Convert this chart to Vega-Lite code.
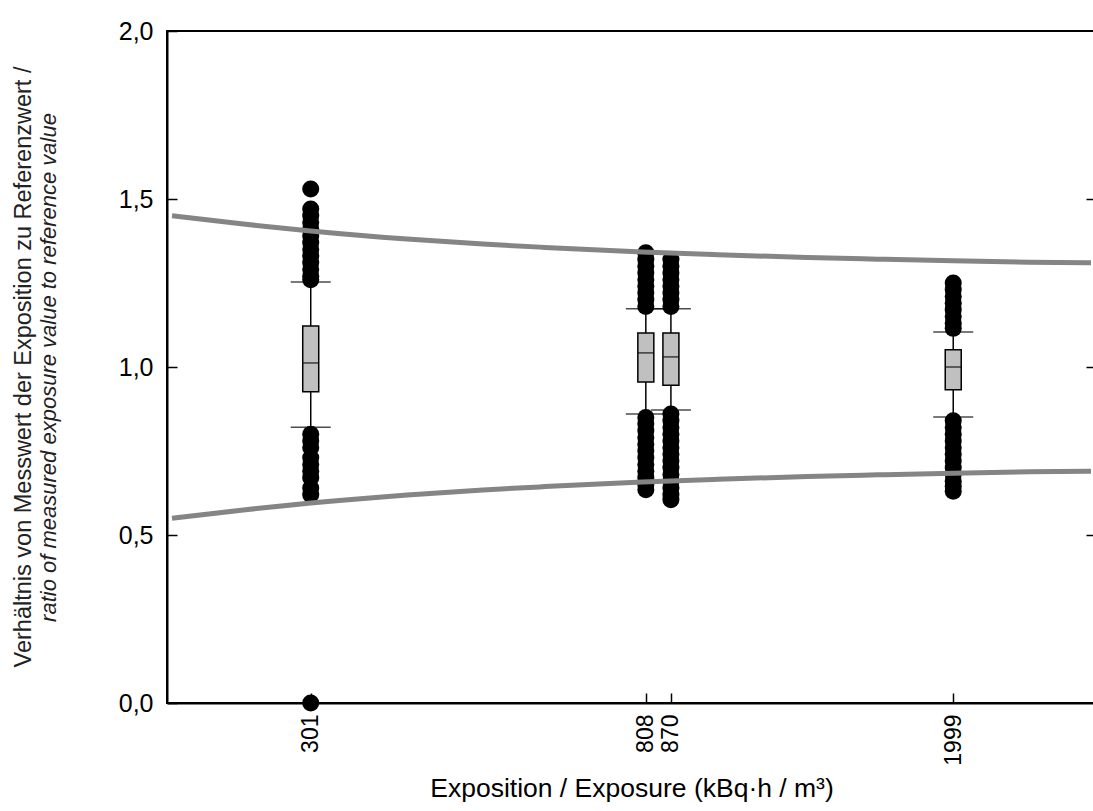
{
  "$schema": "https://vega.github.io/schema/vega-lite/v6.json",
  "autosize": {"type": "none"},
  "padding": {"left": 167, "top": 31, "right": 0, "bottom": 108},
  "width": 929,
  "height": 672,
  "background": "white",
  "config": {
    "view": {"stroke": "black", "strokeWidth": 2},
    "font": "Liberation Sans",
    "axis": {"labelFont": "Liberation Sans", "titleFont": "Liberation Sans", "labelColor": "black", "titleColor": "black", "domainColor": "black", "tickColor": "black", "grid": false}
  },
  "title": {
    "text": "Verhältnis von Messwert der Exposition zu Referenzwert /",
    "orient": "left",
    "anchor": "middle",
    "font": "Liberation Sans",
    "fontSize": 23.5,
    "fontWeight": "normal",
    "color": "#222222",
    "offset": 2
  },
  "datasets": {
    "pts": [
      {"x": 301, "v": 1.53}, {"x": 301, "v": 1.47}, {"x": 301, "v": 1.45}, {"x": 301, "v": 1.43}, {"x": 301, "v": 1.41}, {"x": 301, "v": 1.39}, {"x": 301, "v": 1.37}, {"x": 301, "v": 1.35}, {"x": 301, "v": 1.33}, {"x": 301, "v": 1.31}, {"x": 301, "v": 1.29}, {"x": 301, "v": 1.27}, {"x": 301, "v": 1.26},
      {"x": 301, "v": 0.80}, {"x": 301, "v": 0.78}, {"x": 301, "v": 0.76}, {"x": 301, "v": 0.73}, {"x": 301, "v": 0.71}, {"x": 301, "v": 0.69}, {"x": 301, "v": 0.67}, {"x": 301, "v": 0.64}, {"x": 301, "v": 0.62}, {"x": 301, "v": 0.0},
      {"x": 808, "v": 1.34}, {"x": 808, "v": 1.32}, {"x": 808, "v": 1.30}, {"x": 808, "v": 1.28}, {"x": 808, "v": 1.26}, {"x": 808, "v": 1.24}, {"x": 808, "v": 1.22}, {"x": 808, "v": 1.20}, {"x": 808, "v": 1.18},
      {"x": 808, "v": 0.85}, {"x": 808, "v": 0.83}, {"x": 808, "v": 0.81}, {"x": 808, "v": 0.79}, {"x": 808, "v": 0.77}, {"x": 808, "v": 0.75}, {"x": 808, "v": 0.73}, {"x": 808, "v": 0.71}, {"x": 808, "v": 0.69}, {"x": 808, "v": 0.67}, {"x": 808, "v": 0.65}, {"x": 808, "v": 0.635},
      {"x": 870, "v": 1.32}, {"x": 870, "v": 1.30}, {"x": 870, "v": 1.28}, {"x": 870, "v": 1.26}, {"x": 870, "v": 1.24}, {"x": 870, "v": 1.22}, {"x": 870, "v": 1.20}, {"x": 870, "v": 1.18},
      {"x": 870, "v": 0.86}, {"x": 870, "v": 0.84}, {"x": 870, "v": 0.82}, {"x": 870, "v": 0.80}, {"x": 870, "v": 0.78}, {"x": 870, "v": 0.76}, {"x": 870, "v": 0.74}, {"x": 870, "v": 0.72}, {"x": 870, "v": 0.70}, {"x": 870, "v": 0.68}, {"x": 870, "v": 0.66}, {"x": 870, "v": 0.64}, {"x": 870, "v": 0.62}, {"x": 870, "v": 0.605},
      {"x": 1999, "v": 1.25}, {"x": 1999, "v": 1.23}, {"x": 1999, "v": 1.21}, {"x": 1999, "v": 1.19}, {"x": 1999, "v": 1.17}, {"x": 1999, "v": 1.15}, {"x": 1999, "v": 1.13}, {"x": 1999, "v": 1.115},
      {"x": 1999, "v": 0.84}, {"x": 1999, "v": 0.82}, {"x": 1999, "v": 0.80}, {"x": 1999, "v": 0.78}, {"x": 1999, "v": 0.76}, {"x": 1999, "v": 0.74}, {"x": 1999, "v": 0.72}, {"x": 1999, "v": 0.70}, {"x": 1999, "v": 0.68}, {"x": 1999, "v": 0.66}, {"x": 1999, "v": 0.645}, {"x": 1999, "v": 0.63}
    ],
    "box": [
      {"x": 301, "lo": 0.821, "q1": 0.926, "med": 1.012, "q3": 1.122, "hi": 1.253},
      {"x": 808, "lo": 0.860, "q1": 0.955, "med": 1.042, "q3": 1.101, "hi": 1.173},
      {"x": 870, "lo": 0.872, "q1": 0.946, "med": 1.030, "q3": 1.101, "hi": 1.173},
      {"x": 1999, "lo": 0.851, "q1": 0.932, "med": 1.000, "q3": 1.051, "hi": 1.104}
    ],
    "curve": [
      {"x": 200, "up": 1.450, "lo": 0.550},
      {"x": 250, "up": 1.424, "lo": 0.576},
      {"x": 301, "up": 1.405, "lo": 0.595},
      {"x": 400, "up": 1.381, "lo": 0.619},
      {"x": 500, "up": 1.366, "lo": 0.634},
      {"x": 600, "up": 1.356, "lo": 0.644},
      {"x": 800, "up": 1.342, "lo": 0.658},
      {"x": 1000, "up": 1.334, "lo": 0.666},
      {"x": 1300, "up": 1.326, "lo": 0.674},
      {"x": 1600, "up": 1.321, "lo": 0.679},
      {"x": 2000, "up": 1.316, "lo": 0.684},
      {"x": 2500, "up": 1.312, "lo": 0.688},
      {"x": 3000, "up": 1.310, "lo": 0.690}
    ]
  },
  "resolve": {"axis": {"y": "independent"}},
  "layer": [
    {
      "data": {"name": "pts"},
      "mark": {"type": "circle", "size": 290, "color": "black", "opacity": 1},
      "encoding": {
        "x": {
          "field": "x", "type": "quantitative",
          "scale": {"type": "log", "domain": [200, 3000], "nice": false},
          "axis": {
            "values": [301, 808, 870, 1999],
            "labelExpr": "format(datum.value, 'd')",
            "labelAngle": 270,
            "labelFontSize": 23,
            "labelPadding": 21,
            "tickSize": -10,
            "tickWidth": 1.5,
            "domainWidth": 2,
            "title": "Exposition / Exposure (kBq·h / m³)",
            "titleFontSize": 26.5,
            "titleFontWeight": "normal",
            "titlePadding": 10
          }
        },
        "y": {
          "field": "v", "type": "quantitative",
          "scale": {"domain": [0, 2], "nice": false},
          "axis": {
            "values": [0, 0.5, 1, 1.5, 2],
            "labelExpr": "replace(format(datum.value, '.1f'), '.', ',')",
            "labelFontSize": 25,
            "labelPadding": 24,
            "tickSize": -10,
            "tickWidth": 1.5,
            "domainWidth": 2,
            "title": "ratio of measured exposure value to reference value",
            "titleFontSize": 22,
            "titleFontStyle": "italic",
            "titleFontWeight": "normal",
            "titleColor": "#222222",
            "titlePadding": 58
          }
        }
      }
    },
    {
      "data": {"name": "box"},
      "mark": {"type": "rule", "color": "black", "strokeWidth": 1.5},
      "encoding": {
        "x": {"field": "x", "type": "quantitative"},
        "y": {"field": "lo", "type": "quantitative", "axis": {"orient": "right", "values": [0.5, 1, 1.5], "labels": false, "domain": false, "tickSize": -10, "tickWidth": 1.5, "title": null}},
        "y2": {"field": "hi"}
      }
    },
    {
      "data": {"name": "box"},
      "mark": {"type": "tick", "orient": "horizontal", "size": 40, "thickness": 1.5, "color": "black"},
      "encoding": {
        "x": {"field": "x", "type": "quantitative"},
        "y": {"field": "hi", "type": "quantitative", "axis": null}
      }
    },
    {
      "data": {"name": "box"},
      "mark": {"type": "tick", "orient": "horizontal", "size": 40, "thickness": 1.5, "color": "black"},
      "encoding": {
        "x": {"field": "x", "type": "quantitative"},
        "y": {"field": "lo", "type": "quantitative", "axis": null}
      }
    },
    {
      "data": {"name": "box"},
      "mark": {"type": "bar", "size": 16, "fill": "#c0c0c0", "stroke": "black", "strokeWidth": 1.5, "orient": "vertical"},
      "encoding": {
        "x": {"field": "x", "type": "quantitative"},
        "y": {"field": "q1", "type": "quantitative", "axis": null},
        "y2": {"field": "q3"}
      }
    },
    {
      "data": {"name": "box"},
      "mark": {"type": "tick", "orient": "horizontal", "size": 16, "thickness": 1.5, "color": "black"},
      "encoding": {
        "x": {"field": "x", "type": "quantitative"},
        "y": {"field": "med", "type": "quantitative", "axis": null}
      }
    },
    {
      "data": {"name": "curve"},
      "mark": {"type": "line", "color": "#858585", "strokeWidth": 5, "interpolate": "monotone"},
      "encoding": {
        "x": {"field": "x", "type": "quantitative"},
        "y": {"field": "up", "type": "quantitative", "axis": null}
      }
    },
    {
      "data": {"name": "curve"},
      "mark": {"type": "line", "color": "#858585", "strokeWidth": 5, "interpolate": "monotone"},
      "encoding": {
        "x": {"field": "x", "type": "quantitative"},
        "y": {"field": "lo", "type": "quantitative", "axis": null}
      }
    }
  ]
}
